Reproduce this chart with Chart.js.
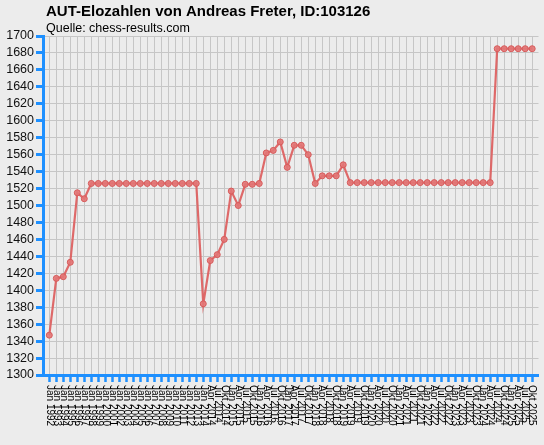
<!DOCTYPE html>
<html>
<head>
<meta charset="utf-8">
<script src="https://cdn.jsdelivr.net/npm/chart.js@4/dist/chart.umd.min.js"></script>
<style>
    html, body { margin: 0; padding: 0; background: #ececec; overflow: hidden; }
    canvas { display: block; }
</style>
</head>
<body>
<canvas id="eloChart" width="544" height="445"></canvas>
<script>
// Chart texts
var chartTitle = 'AUT-Elozahlen von Andreas Freter, ID:103126';
var chartSource = 'Quelle: chess-results.com';

// Rating list dates (x axis)
var ratingDates = [
    'Jan 1992', 'Jan 1993', 'Jan 1994', 'Jan 1995', 'Jan 1996', 'Jan 1997', 'Jan 1998', 'Jan 1999',
    'Jan 2000', 'Jan 2001', 'Jan 2002', 'Jan 2003', 'Jan 2004', 'Jan 2005', 'Jan 2006', 'Jan 2007',
    'Jan 2008', 'Jan 2009', 'Jan 2010', 'Jan 2011', 'Jan 2012', 'Jan 2013',
    'Jan 2014', 'Apr 2014', 'Jul 2014', 'Okt 2014', 'Jan 2015', 'Apr 2015', 'Jul 2015', 'Okt 2015',
    'Jan 2016', 'Apr 2016', 'Jul 2016', 'Okt 2016', 'Jan 2017', 'Apr 2017', 'Jul 2017', 'Okt 2017',
    'Jan 2018', 'Apr 2018', 'Jul 2018', 'Okt 2018', 'Jan 2019', 'Apr 2019', 'Jul 2019', 'Okt 2019',
    'Jan 2020', 'Apr 2020', 'Jul 2020', 'Okt 2020', 'Jan 2021', 'Apr 2021', 'Jul 2021', 'Okt 2021',
    'Jan 2022', 'Apr 2022', 'Jul 2022', 'Okt 2022', 'Jan 2023', 'Apr 2023', 'Jul 2023', 'Okt 2023',
    'Jan 2024', 'Apr 2024', 'Jul 2024', 'Okt 2024', 'Jan 2025', 'Apr 2025', 'Jul 2025', 'Okt 2025'
];

// Rating values
var eloValues = [
    1347, 1414, 1416, 1433, 1515, 1508, 1526, 1526, 1526, 1526, 1526, 1526, 1526, 1526, 1526, 1526,
    1526, 1526, 1526, 1526, 1526, 1526,
    1384, 1435, 1442, 1460, 1517, 1500, 1525, 1525, 1526, 1562, 1565, 1575, 1545, 1571, 1571, 1560,
    1526, 1535, 1535, 1535, 1548,
    1527, 1527, 1527, 1527, 1527, 1527, 1527, 1527, 1527, 1527, 1527, 1527, 1527, 1527, 1527, 1527,
    1527, 1527, 1527, 1527, 1527,
    1685, 1685, 1685, 1685, 1685, 1685
];

// Y axis range
var eloMin = 1300;
var eloMax = 1700;
var eloStep = 20;

var axisBlue = '#1e90ff';
var gridGray = '#c6c6c6';
var fontFamily = '"Liberation Sans", Arial, sans-serif';

// Title, source line and the vertical date labels
var headerAndDates = {
    id: 'headerAndDates',
    afterDraw: function (chart) {
        var ctx = chart.ctx;
        ctx.save();
        ctx.fillStyle = '#000';
        ctx.textAlign = 'left';
        ctx.textBaseline = 'alphabetic';
        ctx.font = 'bold 15px ' + fontFamily;
        ctx.fillText(chartTitle, 46, 16);
        ctx.font = '12.5px ' + fontFamily;
        ctx.fillText(chartSource, 46, 32);

        var xs = chart.scales.x;
        ctx.font = '10px ' + fontFamily;
        ctx.textBaseline = 'middle';
        ratingDates.forEach(function (lbl, i) {
            ctx.save();
            ctx.translate(xs.getPixelForValue(i), chart.chartArea.bottom + 10);
            ctx.rotate(Math.PI / 2);
            ctx.fillText(lbl, 0, 0);
            ctx.restore();
        });
        ctx.restore();
    }
};

new Chart(document.getElementById('eloChart'), {
    type: 'line',
    data: {
        datasets: [{
            data: eloValues.map(function (v, i) { return { x: i, y: v }; }),
            borderColor: 'rgba(221, 98, 98, 0.95)',
            borderWidth: 2.2,
            pointRadius: 3,
            pointBorderWidth: 1,
            pointBackgroundColor: 'rgba(226, 118, 118, 0.9)',
            pointBorderColor: 'rgba(215, 90, 90, 1)',
            tension: 0,
            fill: false
        }]
    },
    options: {
        responsive: false,
        animation: false,
        layout: {
            padding: { top: 36, right: 5.5, bottom: 0, left: 0 }
        },
        plugins: {
            legend: { display: false },
            tooltip: { enabled: false }
        },
        scales: {
            x: {
                type: 'linear',
                min: -0.9,
                max: ratingDates.length - 1 + 0.9,
                afterBuildTicks: function (axis) {
                    axis.ticks = ratingDates.map(function (d, i) { return { value: i }; });
                },
                afterFit: function (scale) {
                    scale.height = 70;
                },
                ticks: { display: false },
                grid: {
                    color: gridGray,
                    lineWidth: 1,
                    drawTicks: true,
                    tickLength: 7,
                    tickWidth: 2.5,
                    tickColor: axisBlue
                },
                border: { color: axisBlue, width: 3 }
            },
            y: {
                min: eloMin,
                max: eloMax,
                afterFit: function (scale) {
                    scale.width = 43;
                },
                ticks: {
                    stepSize: eloStep,
                    autoSkip: false,
                    padding: 2,
                    color: '#111',
                    font: { family: fontFamily, size: 12.5 },
                    callback: function (value) { return String(value); }
                },
                grid: {
                    color: gridGray,
                    lineWidth: 1,
                    drawTicks: true,
                    tickLength: 7,
                    tickWidth: 3,
                    tickColor: axisBlue
                },
                border: { color: axisBlue, width: 3 }
            }
        }
    },
    plugins: [headerAndDates]
});
</script>
</body>
</html>
